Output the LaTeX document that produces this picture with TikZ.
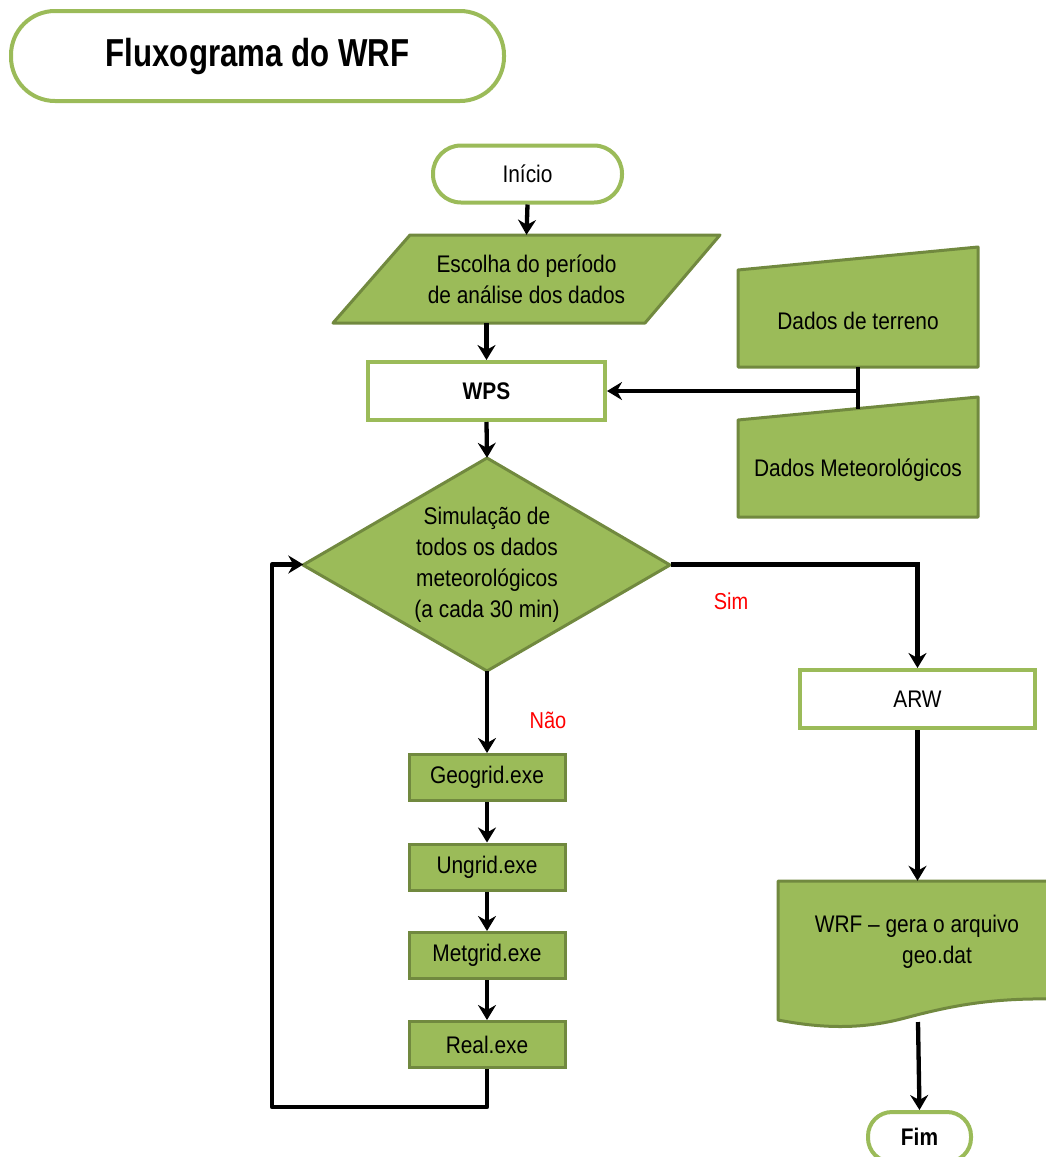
\documentclass[tikz,border=0pt]{standalone}
\usepackage{fontspec}
\setmainfont{Liberation Sans}[FakeStretch=0.87]
\newfontfamily\headfont{Liberation Sans}[FakeStretch=0.8]
\usetikzlibrary{arrows.meta}
\definecolor{leaf}{HTML}{9BBB59}
\definecolor{olive}{HTML}{71893F}
\definecolor{flagred}{HTML}{FF0000}
\tikzset{
  txt/.style={font=\fontsize{24}{31}\selectfont, align=center, inner sep=0pt},
  terminal/.style={txt, draw=leaf, line width=4pt, fill=white, rounded corners=28pt},
  whitebox/.style={txt, draw=leaf, line width=4pt, fill=white},
  greenbox/.style={txt, draw=olive, line width=3pt, fill=leaf},
  greenshape/.style={draw=olive, line width=3pt, fill=leaf, line join=round},
  flow/.style={line width=4.3pt, -{Stealth[length=15pt,width=18pt,inset=5pt]}},
  plain/.style={line width=4.3pt},
  answer/.style={font=\fontsize{23}{28}\selectfont, text=flagred, inner sep=0pt}
}
\begin{document}
\begin{tikzpicture}[x=1pt,y=-1pt]
\useasboundingbox (0,0) rectangle (1046,1157);

% title
\node[draw=leaf, line width=4pt, rounded corners=44pt, minimum width=493pt, minimum height=90pt,
      font=\headfont\fontsize{39}{45}\selectfont\bfseries, inner sep=0pt] (title) at (257.5,56) {Fluxograma do WRF};

% start
\node[terminal, minimum width=189pt, minimum height=57pt] (start) at (527.5,174) {Início};

% input: period of analysis (parallelogram)
\draw[greenshape] (410,235) -- (720,235) -- (645,323) -- (333,323) -- cycle;
\node[txt, minimum width=387pt, minimum height=88pt] (par) at (526.5,279) {Escolha do período\\de análise dos dados};

% WPS
\node[whitebox, font=\fontsize{24}{31}\selectfont\bfseries, minimum width=237pt, minimum height=58pt] (wps) at (486.5,391) {WPS};

% manual inputs: terrain and meteorological data
\draw[greenshape] (738,270) -- (978,247) -- (978,367) -- (738,367) -- cycle;
\node[txt, minimum height=92pt] (terr) at (858,321) {Dados de terreno};
\draw[greenshape] (738,420) -- (978,397) -- (978,517) -- (738,517) -- cycle;
\node[txt] (met) at (858,470) {Dados Meteorológicos};
\coordinate (mettop) at (858,408.5);

% decision
\draw[greenshape] (487,458) -- (670,565) -- (487,671) -- (303,565) -- cycle;
\node[txt, minimum width=367pt, minimum height=213pt] (dec) at (487,564.5)
  {Simulação de\\todos os dados\\meteorológicos\\(a cada 30 min)};

% ARW
\node[whitebox, minimum width=235pt, minimum height=58pt] (arw) at (917.5,699) {ARW};

% document: WRF output
\draw[greenshape] (778,881) -- (1052,881) -- (1052,999)
  .. controls (990,998) and (950,1006) .. (905,1018)
  .. controls (860,1030) and (820,1028) .. (778,1020) -- cycle;
\node[txt, minimum height=122pt] (wrf) at (917,942) {WRF – gera o arquivo\\\hspace*{40pt}geo.dat};
\coordinate (wrfbot) at (918,1022);

% end
\node[terminal, font=\fontsize{24}{31}\selectfont\bfseries, minimum width=103pt, minimum height=50pt,
      rounded corners=24pt] (fim) at (919.5,1137) {Fim};

% WPS programs
\node[greenbox, minimum width=156pt, minimum height=46pt] (geo) at (487,777.5) {Geogrid.exe};
\node[greenbox, minimum width=156pt, minimum height=46pt] (ung) at (487,867) {Ungrid.exe};
\node[greenbox, minimum width=156pt, minimum height=46pt] (metg) at (487,955.5) {Metgrid.exe};
\node[greenbox, minimum width=156pt, minimum height=46pt] (real) at (487,1044.5) {Real.exe};

% connectors
\draw[flow] (start.south) -- (par.north);
\draw[flow] (wps.north |- par.south) -- (wps.north);
\draw[flow] (wps.south) -- (dec.north);
\draw[plain] (terr.south) -- (mettop);
\draw[flow] (terr.south |- wps.east) -- (wps.east);
\draw[flow] (dec.east) -| (arw.north);
\draw[flow] (arw.south) -- (arw.south |- wrf.north);
\draw[flow] (wrfbot) -- (fim.north);
\draw[flow] (dec.south) -- (geo.north);
\draw[flow] (geo.south) -- (ung.north);
\draw[flow] (ung.south) -- (metg.north);
\draw[flow] (metg.south) -- (real.north);
\coordinate (loopc) at (272,1107);
\draw[flow, line join=round] (real.south) |- (loopc) |- (dec.west);

% branch labels
\node[answer] (sim) at (731,601) {Sim};
\node[answer] (nao) at (548,720) {Não};
\end{tikzpicture}
\end{document}
